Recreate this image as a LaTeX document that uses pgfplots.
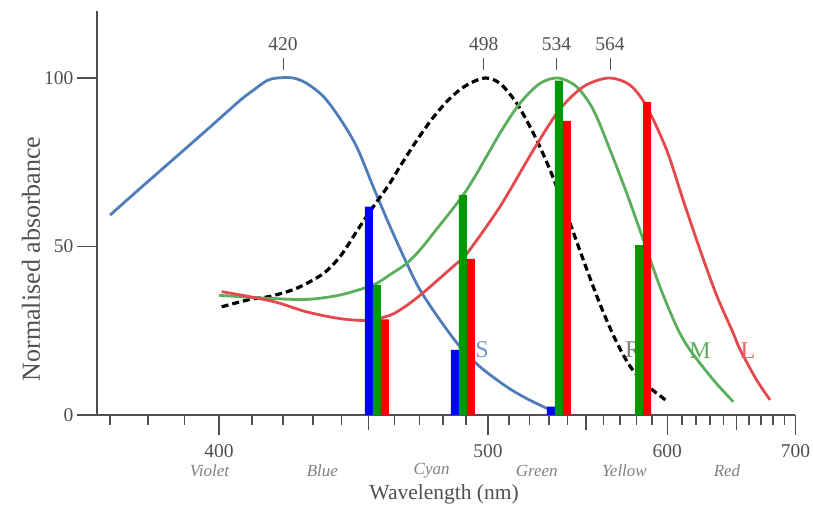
\documentclass[border=0pt]{standalone}
\usepackage{fontspec}
\setmainfont{Liberation Serif}
\usepackage{pgfplots}
\pgfplotsset{compat=1.18}
\definecolor{sblue}{HTML}{4F7DBA}
\definecolor{mgreen}{HTML}{5BAE5B}
\definecolor{lred}{HTML}{E5484D}
\definecolor{axgray}{HTML}{505050}
\definecolor{bargreen}{HTML}{009900}

\begin{document}
\begin{tikzpicture}
\begin{axis}[
  at={(0pt,0pt)}, anchor=south west,
  scale only axis, width=698.4pt, height=404.4pt,
  % wavelength axis drawn linear in wavenumber
  x coord trafo/.code={\pgfmathparse{-10000/#1}},
  x coord inv trafo/.code={\pgfmathparse{-10000/#1}},
  xmin=366.73, xmax=700, ymin=0, ymax=120,
  axis x line*=bottom, axis y line*=left,
  axis line style={-, draw=axgray, line width=2pt},
  tick align=outside,
  major tick length=20pt, minor tick length=10pt,
  every tick/.style={draw=axgray, line width=1.5pt},
  xtick={400,500,600,700}, xticklabels={400,500,600,700},
  minor xtick={370,380,390,410,420,430,440,460,470,480,490,510,520,530,540,560,570,580,590,610,620,630,640,660,670,680,690},
  extra x ticks={450,550,650}, extra x tick labels={},
  extra x tick style={major tick length=15pt},
  ytick={0,50,100}, yticklabels={0,50,100},
  /pgf/number format/assume math mode=true,
  tick label style={font=\fontsize{19.5}{22}\selectfont, text=axgray},
  xticklabel style={yshift=-6pt},
  xlabel={Wavelength (nm)},
  xlabel style={at={(rel axis cs:0.497,0)}, anchor=center, yshift=-79pt,
    font=\fontsize{21.5}{24}\selectfont, text=axgray},
  ylabel={Normalised absorbance},
  ylabel style={at={(rel axis cs:0,0.386)}, anchor=center, yshift=66pt,
    font=\fontsize{26}{28}\selectfont, text=axgray},
  clip=false,
]
% S cones (420)
\addplot[sblue, line width=2.8pt, smooth] coordinates {
(370,59.3) (377.8,67.2) (386.9,75.9) (396.4,84.6) (406.3,93.3) (410.5,96.4)
(414.7,99.2) (418,100) (423.4,100) (427.9,98.4) (433.7,94.5) (439.5,88)
(445.6,79.6) (451.8,67.7) (458.3,55.9) (464.9,45) (470.3,37.1) (478.6,28.2)
(487.3,20.3) (496.3,14.3) (508.8,8.4) (518.6,4.9) (528.8,2.0) (530.6,1.6)};
% rods (498)
\addplot[black, line width=3.2pt, dash pattern=on 7pt off 4pt, smooth] coordinates {
(400.8,32.1) (409.4,34.3) (415.8,35.2) (424.5,37.6) (433.7,42) (440,47.5)
(446,55) (452,62) (458,68.5) (462,73.5) (469,81.5) (476,88.5) (483,94)
(490.3,97.9) (498.6,100) (505.6,98.4) (513.7,92.5) (522,83.6) (530.6,72.7)
(539.4,59.8) (548.6,46) (558,33) (567,22.5) (576,14.5) (586.5,8.9) (599.6,4.2)};
% M cones (534)
\addplot[mgreen, line width=2.8pt, smooth] coordinates {
(400,35.5) (415.8,34.6) (427.9,34.3) (439.5,35.6) (451.8,38.6) (458,41.5)
(464.9,45) (470.3,49) (475.8,53.9) (490.3,66.8) (505.6,83.6) (515.3,92.5)
(525.4,98.4) (535,100) (544.9,97.4) (554.3,90.5) (564,78.6) (574,65.8)
(584.4,51.9) (595.1,38.1) (606.3,26.2) (615.6,19.3) (632.5,10.4) (647.7,3.9)};
% L cones (564)
\addplot[lred, line width=2.8pt, smooth] coordinates {
(400.8,36.6) (409.4,35.1) (418,33.4) (427.9,30.6) (439.5,28.6) (449.3,28.1)
(458.3,29.6) (464.9,32.5) (471.6,36.3) (478.6,40.6) (485.9,45) (490.3,47.8)
(505.6,61.8) (522,78.6) (535.5,90.5) (548.6,97.4) (563,100) (576,97.9)
(586.5,91.5) (599.6,78.6) (610.8,63.8) (622.7,49) (634.9,35.5) (647.7,24.2)
(652.9,19.5) (666.4,10.4) (677.6,4.5)};

\node[text=sblue!80, font=\fontsize{24}{26}\selectfont] at (axis cs:497.2,19.5) {S};
\node[text=gray, font=\fontsize{24}{26}\selectfont] at (axis cs:577.9,19.5) {R};
\node[text=mgreen, font=\fontsize{24}{26}\selectfont] at (axis cs:622.7,19) {M};
\node[text=lred!85, font=\fontsize{24}{26}\selectfont] at (axis cs:659.3,19) {L};

% bar groups: S, M, L responses
\addplot[ybar, bar width=8pt, bar shift=-8pt, fill=blue, draw=none] coordinates {
(453.2,61.8) (488.6,19.3) (535.3,2.5)};
\addplot[ybar, bar width=8pt, bar shift=0pt, fill=bargreen, draw=none] coordinates {
(453.2,38.6) (488.6,65.3) (535.3,99.2) (581.7,50.4)};
\addplot[ybar, bar width=8pt, bar shift=8pt, fill=red, draw=none] coordinates {
(453.2,28.4) (488.6,46.3) (535.3,87.3) (581.7,92.9)};

% peak markers
\foreach \p in {420,498,534,564}{
  \edef\tmp{\noexpand\draw[axgray, line width=1pt] (axis cs:\p,102.5) -- (axis cs:\p,106);
    \noexpand\node[text=axgray, font=\noexpand\fontsize{19.5}{22}\noexpand\selectfont] at (axis cs:\p,110) {\p};}
  \tmp
}

% colour names
\foreach \w/\n in {397.2/Violet,433.3/Blue,475.1/Cyan,523.7/Green,572.6/Yellow,642.8/Red}{
  \edef\tmp{\noexpand\node[text=gray, font=\noexpand\fontsize{17}{19}\noexpand\selectfont\noexpand\itshape] at (axis cs:\w,0) [yshift=-56pt] {\n};}
  \tmp
}
\end{axis}
\pgfresetboundingbox
\path[use as bounding box] (-97pt,-103pt) rectangle (716pt,415pt);
\end{tikzpicture}
\end{document}
